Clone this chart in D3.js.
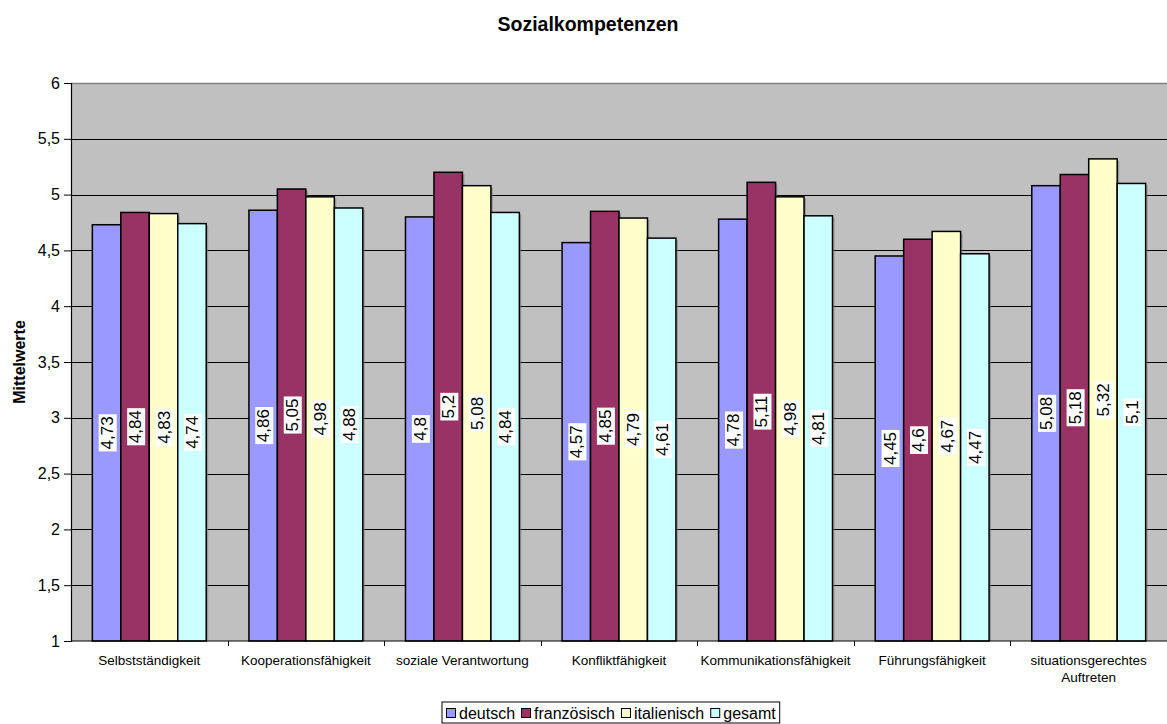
<!DOCTYPE html>
<html>
<head>
<meta charset="utf-8">
<script src="https://cdn.jsdelivr.net/npm/d3@7"></script>
<style>
  html, body { margin: 0; padding: 0; background: #fff; }
  svg { display: block; font-family: "Liberation Sans", Arial, sans-serif; }
</style>
</head>
<body>
<svg id="chart" width="1167" height="724"></svg>
<script>
// Kategorien und Mittelwerte je Sprachregion
const categories = [
  "Selbstständigkeit",
  "Kooperationsfähigkeit",
  "soziale Verantwortung",
  "Konfliktfähigkeit",
  "Kommunikationsfähigkeit",
  "Führungsfähigkeit",
  "situationsgerechtes Auftreten"
];
const seriesNames = ["deutsch", "französisch", "italienisch", "gesamt"];
const deutsch      = [4.73, 4.86, 4.8, 4.57, 4.78, 4.45, 5.08];
const franzoesisch = [4.84, 5.05, 5.2, 4.85, 5.11, 4.6, 5.18];
const italienisch  = [4.83, 4.98, 5.08, 4.79, 4.98, 4.67, 5.32];
const gesamt       = [4.74, 4.88, 4.84, 4.61, 4.81, 4.47, 5.1];
const yTicks = [1, 1.5, 2, 2.5, 3, 3.5, 4, 4.5, 5, 5.5, 6];
const colors = ["#9999FF", "#993366", "#FFFFCC", "#CCFFFF"];

const seriesValues = [deutsch, franzoesisch, italienisch, gesamt];
const fmt = v => String(v).replace(".", ",");

const svg = d3.select("#chart");
const plot = { left: 71, top: 83, right: 1167, bottom: 641 };

const x = d3.scaleBand().domain(categories).range([plot.left, plot.right]);
const bandPad = 0.75 / 5.5; // Lücke 150 % der Balkenbreite
const x1 = d3.scaleBand().domain(seriesNames)
  .range([x.bandwidth() * bandPad, x.bandwidth() * (1 - bandPad)]);
const y = d3.scaleLinear().domain([1, 6]).range([plot.bottom, plot.top]);

// Zeichenfläche
svg.append("rect")
  .attr("x", plot.left).attr("y", plot.top)
  .attr("width", plot.right - plot.left).attr("height", plot.bottom - plot.top)
  .attr("fill", "#C0C0C0");
svg.append("line")
  .attr("x1", plot.left).attr("x2", plot.right)
  .attr("y1", plot.top + 0.5).attr("y2", plot.top + 0.5)
  .attr("stroke", "#808080").attr("stroke-width", 1.5);

// Gitterlinien
svg.append("g").selectAll("line")
  .data(yTicks.filter(t => t > 1 && t < 6))
  .join("line")
  .attr("x1", plot.left).attr("x2", plot.right)
  .attr("y1", d => Math.round(y(d)) + 0.5).attr("y2", d => Math.round(y(d)) + 0.5)
  .attr("stroke", "#000").attr("stroke-width", 1);

// Balken
const groups = svg.append("g").selectAll("g")
  .data(categories)
  .join("g")
  .attr("transform", d => `translate(${x(d)},0)`);

const bars = groups.selectAll("g.bar")
  .data((c, i) => seriesNames.map((s, j) => ({ s, j, v: seriesValues[j][i] })))
  .join("g").attr("class", "bar");

// Schatten
bars.append("rect")
  .attr("x", d => x1(d.s) + 2)
  .attr("y", d => y(d.v) + 2)
  .attr("width", x1.bandwidth())
  .attr("height", d => y(1) - y(d.v) - 2)
  .attr("fill", "#808080").attr("opacity", 0.6);

bars.append("rect")
  .attr("x", d => x1(d.s))
  .attr("y", d => y(d.v))
  .attr("width", x1.bandwidth())
  .attr("height", d => y(1) - y(d.v))
  .attr("fill", d => colors[d.j])
  .attr("stroke", "#000").attr("stroke-width", 1.5);

// Wertebeschriftungen (gedreht, weiss hinterlegt)
const labels = bars.append("g")
  .attr("transform", d => `translate(${x1(d.s) + x1.bandwidth() / 2},${(y(d.v) + y(1)) / 2}) rotate(-90)`);
labels.append("text")
  .attr("text-anchor", "middle")
  .attr("dy", "0.36em")
  .attr("font-size", 17)
  .attr("fill", "#000")
  .text(d => fmt(d.v))
  .each(function () {
    const bb = this.getBBox();
    d3.select(this.parentNode).insert("rect", "text")
      .attr("x", bb.x - 2).attr("y", bb.y + 1)
      .attr("width", bb.width + 4).attr("height", bb.height - 1)
      .attr("fill", "#fff");
  });

// Y-Achse
const yAxis = svg.append("g")
  .attr("transform", `translate(${plot.left},0)`)
  .call(d3.axisLeft(y).tickValues(yTicks).tickSize(7).tickPadding(4).tickFormat(fmt));
yAxis.select(".domain").attr("stroke", "#000").attr("stroke-width", 1.2);
yAxis.selectAll(".tick line").attr("stroke", "#000");
yAxis.selectAll(".tick text").attr("font-size", 16).attr("fill", "#000")
  .attr("font-family", "Liberation Sans, Arial, sans-serif");

// X-Achse
const xAxisG = svg.append("g");
xAxisG.append("line")
  .attr("x1", plot.left).attr("x2", plot.right)
  .attr("y1", plot.bottom).attr("y2", plot.bottom)
  .attr("stroke", "#000").attr("stroke-width", 1.2);
xAxisG.selectAll("line.tick")
  .data(categories.map(c => x(c)).concat([plot.right]).slice(1))
  .join("line").attr("class", "tick")
  .attr("x1", d => Math.round(d) + 0.5).attr("x2", d => Math.round(d) + 0.5)
  .attr("y1", plot.bottom).attr("y2", plot.bottom + 5)
  .attr("stroke", "#000");
const xl = xAxisG.selectAll("text")
  .data(categories)
  .join("text")
  .attr("x", d => x(d) + x.bandwidth() / 2)
  .attr("y", plot.bottom + 24)
  .attr("text-anchor", "middle")
  .attr("font-size", 13.5)
  .attr("fill", "#000");
xl.each(function (d) {
  const t = d3.select(this);
  const parts = d === "situationsgerechtes Auftreten" ? ["situationsgerechtes", "Auftreten"] : [d];
  parts.forEach((p, i) => {
    t.append("tspan").attr("x", x(d) + x.bandwidth() / 2).attr("dy", i === 0 ? 0 : 17).text(p);
  });
});

// Titel
svg.append("text")
  .attr("x", 588).attr("y", 31)
  .attr("text-anchor", "middle")
  .attr("font-size", 19.5).attr("font-weight", "bold")
  .text("Sozialkompetenzen");

// Achsentitel
svg.append("text")
  .attr("transform", `translate(25,362) rotate(-90)`)
  .attr("text-anchor", "middle")
  .attr("font-size", 16).attr("font-weight", "bold")
  .text("Mittelwerte");

// Legende
const legend = svg.append("g").attr("transform", "translate(442,702)");
const box = legend.append("rect")
  .attr("x", 0).attr("y", 0).attr("height", 21)
  .attr("fill", "#fff").attr("stroke", "#000").attr("stroke-width", 1);
let cursor = 4;
seriesNames.forEach((name, i) => {
  const g = legend.append("g").attr("transform", `translate(${cursor},0)`);
  g.append("rect")
    .attr("x", 0.5).attr("y", 6.5).attr("width", 9).attr("height", 9)
    .attr("fill", colors[i]).attr("stroke", "#000").attr("stroke-width", 1);
  const t = g.append("text")
    .attr("x", 13).attr("y", 17)
    .attr("font-size", 16).attr("fill", "#000")
    .text(name);
  cursor += 13 + t.node().getComputedTextLength() + 6;
});
box.attr("width", cursor - 2);
</script>
</body>
</html>
